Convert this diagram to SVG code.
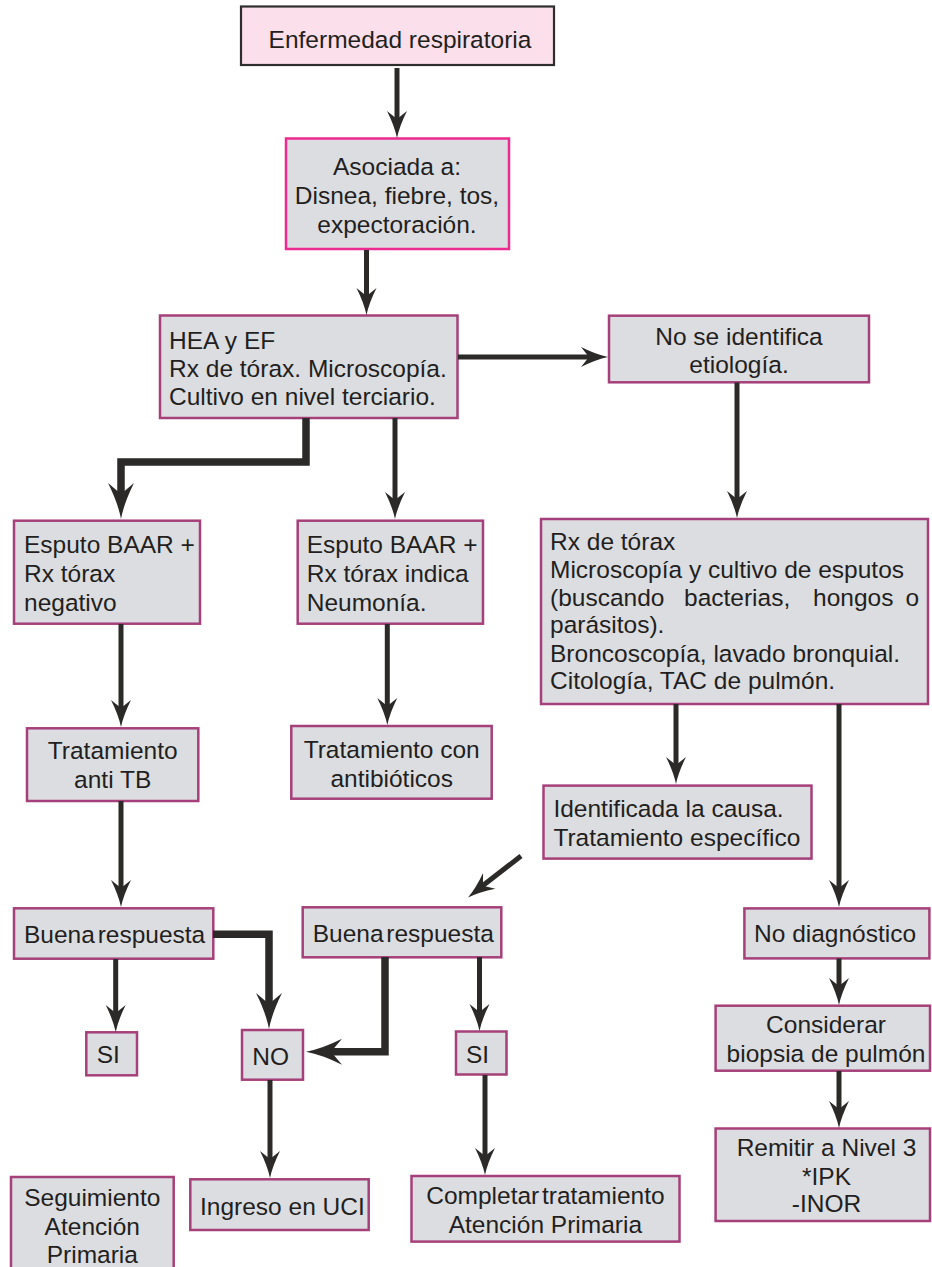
<svg xmlns="http://www.w3.org/2000/svg" xmlns:xlink="http://www.w3.org/1999/xlink" width="932" height="1267" viewBox="0 0 932 1267">
<style>
.box{fill:#dcdde0;stroke:#a5407a;stroke-width:2.5}
.pink{fill:#fbdfea;stroke:#2e2e2e;stroke-width:2.2}
.mag{fill:#dcdde0;stroke:#ec2a8f;stroke-width:2.5}
text{font-family:"Liberation Sans",Arial,sans-serif;font-size:24.5px;fill:#231f20}
.c{text-anchor:middle}
.ln{fill:none;stroke:#2b2a29;stroke-width:5}
.lnT{fill:none;stroke:#2b2a29;stroke-width:7.5}
.hd{fill:#2b2a29}
</style>
<defs>
<path id="ah" d="M0,0 Q-2.5,-12 -10,-27 L0,-19 L10,-27 Q2.5,-12 0,0Z"/>
<path id="ahL" d="M0,0 Q-3,-16 -13,-36 L0,-25 L13,-36 Q3,-16 0,0Z"/>
</defs>

<g id="n1"><rect class="pink" x="241" y="6.5" width="313" height="58.5"/><text class="c" x="400" y="48">Enfermedad respiratoria</text></g>
<g id="n2"><rect class="mag" x="286" y="138.5" width="223" height="110.5"/>
<text class="c" x="397" y="175">Asociada a:</text><text class="c" x="397" y="204">Disnea, fiebre, tos,</text><text class="c" x="397" y="232.5">expectoración.</text></g>
<g id="n3"><rect class="box" x="160" y="315.5" width="297.5" height="102.5"/>
<text x="169" y="348.5">HEA y EF</text><text x="169" y="377">Rx de tórax. Microscopía.</text><text x="169" y="405">Cultivo en nivel terciario.</text></g>
<g id="n4"><rect class="box" x="609" y="315.7" width="260" height="66.6"/>
<text class="c" x="739" y="345">No se identifica</text><text class="c" x="739" y="372.7">etiología.</text></g>
<g id="n5"><rect class="box" x="541" y="519" width="387" height="185"/>
<text x="550" y="550">Rx de tórax</text>
<text x="550" y="578.3">Microscopía y cultivo de esputos</text>
<text y="606"><tspan x="550">(buscando</tspan><tspan x="684">bacterias,</tspan><tspan x="813">hongos</tspan><tspan x="905.5">o</tspan></text>
<text x="550" y="633.3">parásitos).</text>
<text x="550" y="661.7">Broncoscopía, lavado bronquial.</text>
<text x="550" y="689.3">Citología, TAC de pulmón.</text></g>
<g id="n6"><rect class="box" x="14" y="520.7" width="186" height="103"/>
<text x="24" y="552.7">Esputo BAAR +</text><text x="24" y="581.7">Rx tórax</text><text x="24" y="610.7">negativo</text></g>
<g id="n7"><rect class="box" x="297.7" y="520.7" width="185.3" height="103"/>
<text x="306.7" y="552.7">Esputo BAAR +</text><text x="306.7" y="581.7">Rx tórax indica</text><text x="306.7" y="610.7">Neumonía.</text></g>
<g id="n8"><rect class="box" x="27" y="728.3" width="171.3" height="72.7"/>
<text class="c" x="112.7" y="759.3">Tratamiento</text><text class="c" x="112.7" y="788.3">anti TB</text></g>
<g id="n9"><rect class="box" x="291.3" y="726" width="200.4" height="72.7"/>
<text class="c" x="391.7" y="757.7">Tratamiento con</text><text class="c" x="391.7" y="786.7">antibióticos</text></g>
<g id="n10"><rect class="box" x="543.5" y="785.6" width="268" height="73"/>
<text x="553.4" y="817.4">Identificada la causa.</text><text x="553.4" y="845.9">Tratamiento específico</text></g>
<g id="n11"><rect class="box" x="14" y="908.3" width="199.3" height="50.4"/><text x="24" y="942.7" word-spacing="-4">Buena respuesta</text></g>
<g id="n12"><rect class="box" x="302.7" y="907.3" width="198.6" height="50"/><text x="312.7" y="941.7" word-spacing="-4">Buena respuesta</text></g>
<g id="n13"><rect class="box" x="86.3" y="1032.3" width="50.7" height="43"/><text x="96.7" y="1063.3">SI</text></g>
<g id="n14"><rect class="box" x="242" y="1030" width="61" height="49.7"/><text x="252.3" y="1065">NO</text></g>
<g id="n15"><rect class="box" x="456" y="1031.5" width="50.5" height="43"/><text x="466" y="1063.3">SI</text></g>
<g id="n16"><rect class="box" x="744.4" y="908.4" width="185" height="50"/><text x="754" y="942">No diagnóstico</text></g>
<g id="n17"><rect class="box" x="715.6" y="1005.7" width="214.4" height="65"/>
<text class="c" x="826" y="1033">Considerar</text><text class="c" x="826" y="1062">biopsia de pulmón</text></g>
<g id="n18"><rect class="box" x="715.6" y="1128.5" width="214.4" height="92.5"/>
<text class="c" x="826.5" y="1155.5">Remitir a Nivel 3</text><text class="c" x="826.5" y="1184.7">*IPK</text><text class="c" x="826.5" y="1212.4">-INOR</text></g>
<g id="n19"><rect class="box" x="11" y="1177" width="162.7" height="110"/>
<text class="c" x="92.3" y="1206">Seguimiento</text><text class="c" x="92.3" y="1235">Atención</text><text class="c" x="92.3" y="1263.3">Primaria</text></g>
<g id="n20"><rect class="box" x="190.3" y="1179.3" width="178.4" height="50.7"/><text x="200" y="1215">Ingreso en UCI</text></g>
<g id="n21"><rect class="box" x="411.5" y="1176" width="268" height="65.6"/>
<text class="c" x="545.4" y="1204" word-spacing="-4">Completar tratamiento</text><text class="c" x="545.4" y="1233">Atención Primaria</text></g>

<g id="connectors">
<path class="ln" d="M397,68 V122"/><use href="#ah" class="hd" transform="translate(397,138)"/>
<path class="ln" d="M366.5,250 V299"/><use href="#ah" class="hd" transform="translate(366.5,315)"/>
<path class="ln" d="M458,357 H592"/><use href="#ah" class="hd" transform="translate(608,357) rotate(-90)"/>
<path class="ln" d="M737,382.5 V502"/><use href="#ah" class="hd" transform="translate(737,518)"/>
<path class="lnT" d="M306,418 V462 H121 V497"/><use href="#ahL" class="hd" transform="translate(121,519)"/>
<path class="ln" d="M395,418 V503"/><use href="#ah" class="hd" transform="translate(395,519)"/>
<path class="ln" d="M121,624 V711"/><use href="#ah" class="hd" transform="translate(121,727)"/>
<path class="ln" d="M387.3,624 V709"/><use href="#ah" class="hd" transform="translate(387.3,725)"/>
<path class="ln" d="M121,801 V891"/><use href="#ah" class="hd" transform="translate(121,907)"/>
<path class="ln" d="M676,704 V768"/><use href="#ah" class="hd" transform="translate(676,784)"/>
<path class="ln" d="M839,704 V891"/><use href="#ah" class="hd" transform="translate(839,907)"/>
<path class="ln" d="M521,856 L481,887"/><use href="#ah" class="hd" transform="translate(468,897.5) rotate(51.9)"/>
<path class="lnT" d="M213,934.3 H269 V1007"/><use href="#ahL" class="hd" transform="translate(269,1029)"/>
<path class="ln" d="M115.7,959 V1016"/><use href="#ah" class="hd" transform="translate(115.7,1032)"/>
<path class="lnT" d="M385,957 V1051.7 H328"/><use href="#ahL" class="hd" transform="translate(306,1051.7) rotate(90)"/>
<path class="ln" d="M479.5,957 V1015"/><use href="#ah" class="hd" transform="translate(479.5,1031)"/>
<path class="ln" d="M270,1080 V1162"/><use href="#ah" class="hd" transform="translate(270,1178)"/>
<path class="ln" d="M485,1075 V1159"/><use href="#ah" class="hd" transform="translate(485,1175)"/>
<path class="ln" d="M839,958.5 V989"/><use href="#ah" class="hd" transform="translate(839,1005)"/>
<path class="ln" d="M839,1071 V1112"/><use href="#ah" class="hd" transform="translate(839,1128)"/>
</g>
</svg>
